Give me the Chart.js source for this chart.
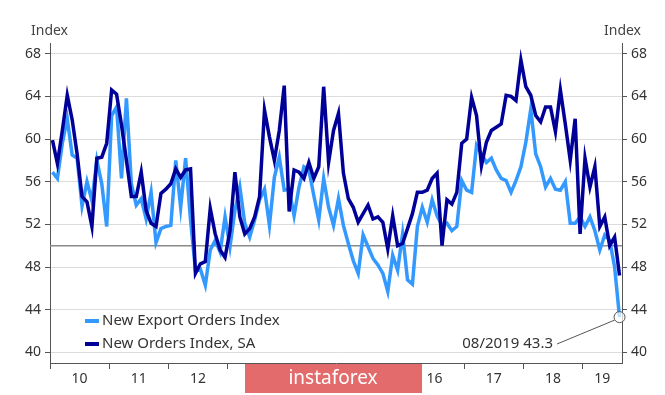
<!DOCTYPE html>
<html>
<head>
<meta charset="utf-8">
<script src="https://cdn.jsdelivr.net/npm/chart.js@4"></script>
<style>
  body { margin: 0; background: #fff; }
  #wrap { width: 665px; height: 395px; }
</style>
</head>
<body>
<div id="wrap"><canvas id="canvas" width="665" height="395"></canvas></div>
<script>
// años del eje x (etiqueta, inicio del año en meses desde ene-2010)
const yearLabels = ["10", "11", "12", "13", "14", "15", "16", "17", "18", "19"];
const monthsShown = 116; // ene 2010 - ago 2019

// New Export Orders Index (mensual, ene 2010 - ago 2019)
const exportOrders = [
  56.9, 56.3, 59.6, 61.9, 58.5, 58.2, 53.7, 56.0, 54.2, 58.0, 55.8, 51.8,
  62.2, 63.0, 56.3, 63.8, 55.8, 53.8, 54.4, 52.5, 55.0, 50.3, 51.6, 51.8,
  51.9, 58.0, 53.6, 58.2, 52.4, 47.7, 47.8, 46.3, 49.6, 50.5, 49.4, 52.7,
  49.9, 53.3, 55.5, 52.1, 50.8, 52.4, 54.3, 55.3, 51.9, 56.4, 58.3, 55.2,
  55.3, 52.8, 55.5, 57.4, 57.1, 54.7, 52.4, 56.3, 53.6, 51.9, 54.4, 51.9,
  50.2, 48.6, 47.4, 51.0, 49.9, 48.8, 48.2, 47.4, 45.7, 49.1, 47.7, 51.1,
  46.8, 46.4, 51.8, 53.6, 52.2, 54.3, 52.8, 51.9, 52.1, 51.4, 51.8, 56.1,
  55.2, 55.0, 59.4, 58.6, 57.8, 58.2, 57.1, 56.3, 56.1, 55.0, 56.1, 57.4,
  59.7, 62.8, 58.6, 57.4, 55.5, 56.3, 55.3, 55.2, 56.0, 52.1, 52.1, 52.7,
  51.8, 52.7, 51.4, 49.6, 51.0, 50.5, 48.0, 43.3
];

// New Orders Index, SA
const newOrders = [
  59.9, 57.7, 60.8, 64.1, 61.8, 58.6, 54.6, 54.1, 51.8, 58.2, 58.3, 59.6,
  64.6, 64.2, 61.3, 58.0, 54.6, 54.6, 56.9, 53.3, 52.1, 51.8, 54.9, 55.3,
  55.8, 57.2, 56.4, 57.1, 57.2, 47.4, 48.3, 48.5, 53.5, 51.1, 49.6, 48.9,
  51.4, 56.9, 52.7, 51.1, 51.6, 52.7, 54.6, 62.7, 60.2, 58.0, 60.8, 65.0,
  53.2, 57.1, 56.9, 56.3, 57.8, 56.3, 57.4, 64.9, 57.8, 60.8, 62.4, 56.8,
  54.4, 53.6, 52.2, 53.0, 53.8, 52.5, 52.7, 52.2, 49.7, 52.8, 50.0, 50.2,
  51.6, 53.0, 55.0, 55.0, 55.2, 56.3, 56.8, 50.0, 54.3, 53.9, 55.0, 59.6,
  60.0, 63.9, 62.2, 57.5, 59.7, 60.8, 61.1, 61.4, 64.1, 64.0, 63.6, 67.4,
  64.9, 64.1, 62.2, 61.6, 63.0, 63.0, 60.7, 64.6, 61.4, 58.0, 61.9, 51.1,
  58.2, 55.5, 57.4, 51.8, 52.7, 50.0, 50.8, 47.2
];

const yTicks = [40, 44, 48, 52, 56, 60, 64, 68];
const lastLabel = "08/2019 43.3";

const colorExport = "#3399ff";
const colorOrders = "#000099";
const fontName = "'Noto Sans', 'Open Sans', sans-serif";

// punto en la mitad de cada mes
const toPoints = (arr) => arr.map((v, i) => ({ x: i + 0.5, y: v }));

// posiciones de las etiquetas de año (mitad del año, 2019 es parcial)
const yearTickValues = yearLabels.map((_, i) => {
  const start = i * 12;
  const end = Math.min(start + 12, monthsShown);
  return (start + end) / 2;
});

const extras = {
  id: "extras",
  beforeDatasetsDraw(chart) {
    // linea de 50
    const { ctx, chartArea, scales } = chart;
    const y50 = scales.y.getPixelForValue(50);
    ctx.save();
    ctx.strokeStyle = "#8a8a8a";
    ctx.lineWidth = 1.5;
    ctx.beginPath();
    ctx.moveTo(chartArea.left, y50);
    ctx.lineTo(chartArea.right, y50);
    ctx.stroke();
    ctx.restore();
  },
  afterDraw(chart) {
    const { ctx, scales } = chart;
    ctx.save();
    // titulos "Index"
    ctx.font = "14px " + fontName;
    ctx.fillStyle = "#444";
    ctx.textBaseline = "middle";
    ctx.textAlign = "left";
    ctx.fillText("Index", 31, 31);
    ctx.fillText("Index", 604, 31);

    // leyenda dentro del grafico
    const legend = [
      { text: "New Export Orders Index", color: colorExport },
      { text: "New Orders Index, SA", color: colorOrders },
    ];
    ctx.font = "15px " + fontName;
    legend.forEach((item, i) => {
      const y = 321 + i * 23;
      ctx.strokeStyle = item.color;
      ctx.lineWidth = 4;
      ctx.beginPath();
      ctx.moveTo(85, y);
      ctx.lineTo(99, y);
      ctx.stroke();
      ctx.fillStyle = "#333";
      ctx.fillText(item.text, 102, y);
    });

    // marca del ultimo valor
    const lastIdx = exportOrders.length - 1;
    const px = scales.x.getPixelForValue(lastIdx + 0.5);
    const py = scales.y.getPixelForValue(exportOrders[lastIdx]);
    ctx.strokeStyle = "#555";
    ctx.lineWidth = 1;
    ctx.beginPath();
    ctx.arc(px, py, 5.5, 0, Math.PI * 2);
    ctx.fillStyle = "rgba(255,255,255,0.7)";
    ctx.fill();
    ctx.stroke();
    ctx.beginPath();
    ctx.moveTo(px - 5, py + 3);
    ctx.lineTo(557, 344);
    ctx.stroke();
    ctx.fillStyle = "#333";
    ctx.textAlign = "right";
    ctx.fillText(lastLabel, 553, 344);

    // sello de agua
    ctx.fillStyle = "#e36b6b";
    ctx.fillRect(245, 364, 177, 29);
    ctx.fillStyle = "#fff";
    ctx.textAlign = "center";
    ctx.font = "19px " + fontName;
    ctx.fillText("instaforex", 333, 379);
    ctx.restore();
  },
};

const yAxis = (position, width, onChart) => ({
  type: "linear",
  position: position,
  min: 39,
  max: 69,
  afterBuildTicks: (scale) => {
    scale.ticks = yTicks.map((v) => ({ value: v }));
  },
  afterFit: (scale) => {
    scale.width = width;
  },
  grid: {
    drawOnChartArea: onChart,
    color: "#dcdcdc",
    tickColor: "#555",
    tickLength: 5,
  },
  border: { color: "#555", width: 1 },
  ticks: {
    color: "#333",
    padding: 4,
    font: { family: fontName, size: 14 },
  },
});

new Chart(document.getElementById("canvas"), {
  type: "line",
  data: {
    datasets: [
      {
        label: "New Export Orders Index",
        data: toPoints(exportOrders),
        borderColor: colorExport,
        borderWidth: 3.5,
        pointRadius: 0,
        tension: 0,
        order: 1,
      },
      {
        label: "New Orders Index, SA",
        data: toPoints(newOrders),
        borderColor: colorOrders,
        borderWidth: 3.5,
        pointRadius: 0,
        tension: 0,
        order: 0,
      },
    ],
  },
  options: {
    responsive: false,
    devicePixelRatio: 1,
    animation: false,
    layout: { padding: { top: 43 } },
    plugins: {
      legend: { display: false },
      tooltip: { enabled: false },
    },
    scales: {
      x: {
        type: "linear",
        min: 0,
        max: monthsShown,
        afterBuildTicks: (scale) => {
          const ticks = [];
          yearLabels.forEach((_, i) => {
            ticks.push({ value: i * 12 });
            ticks.push({ value: yearTickValues[i] });
          });
          scale.ticks = ticks;
        },
        afterFit: (scale) => {
          scale.height = 32;
        },
        grid: {
          drawOnChartArea: false,
          tickLength: 6,
          color: (ctx) => (ctx.tick && ctx.tick.value % 12 === 0 ? "#555" : "rgba(0,0,0,0)"),
          tickColor: (ctx) => (ctx.tick && ctx.tick.value % 12 === 0 ? "#555" : "rgba(0,0,0,0)"),
        },
        border: { color: "#555", width: 1 },
        ticks: {
          autoSkip: false,
          maxRotation: 0,
          color: "#333",
          padding: 2,
          font: { family: fontName, size: 14 },
          callback: (value) => {
            const i = yearTickValues.indexOf(value);
            return i >= 0 ? yearLabels[i] : "";
          },
        },
      },
      y: yAxis("left", 50, true),
      y2: yAxis("right", 43, false),
    },
  },
  plugins: [extras],
});
</script>
</body>
</html>
